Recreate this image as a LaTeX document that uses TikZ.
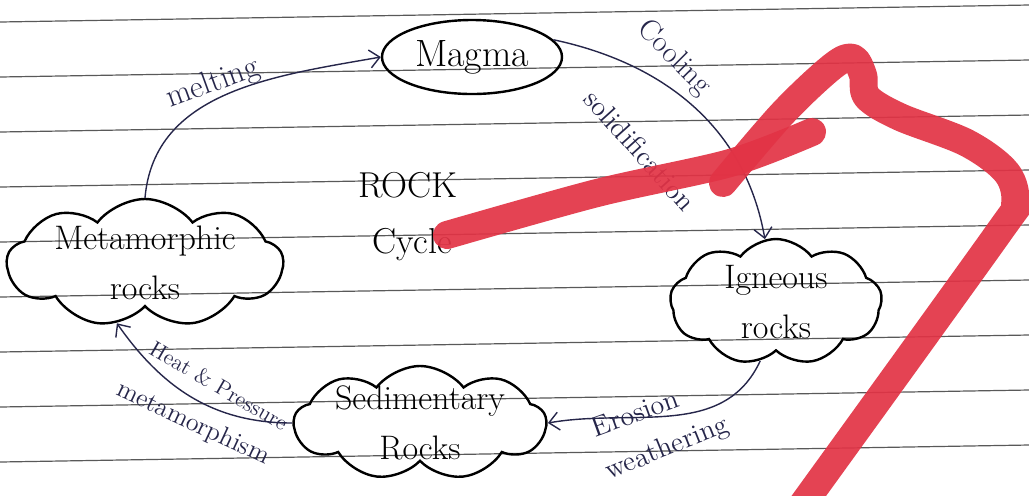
\documentclass[tikz,border=0pt]{standalone}
\usetikzlibrary{shapes.symbols,shapes.geometric,arrows.meta}
\definecolor{ink}{HTML}{26264A}
\definecolor{redmark}{HTML}{E23345}
\begin{document}
\begin{tikzpicture}[x=0.5pt,y=-0.5pt,
  rockcloud/.style={cloud, draw=black, line width=1.2pt, cloud puffs=9, cloud puff arc=105, inner sep=0pt},
  cloudtext/.style={font=\fontsize{17}{25}\selectfont, align=center, inner sep=0pt},
  magmabox/.style={ellipse, draw=black, line width=1.2pt, minimum width=82pt, minimum height=37pt, font=\fontsize{19}{22}\selectfont},
  flow/.style={draw=ink, line width=0.7pt, -{Straight Barb[length=5pt,width=9pt]}},
  flowlabel/.style={text=ink, font=\fontsize{14}{16}\selectfont, inner sep=0pt},
  titletext/.style={font=\fontsize{18}{20}\selectfont},
  ruling/.style={draw=gray!70!black, line width=0.6pt},
  scribble/.style={draw=redmark, line width=14pt, line cap=round, line join=round, opacity=0.92}
]
\useasboundingbox (0,0) rectangle (1029,495);
\fill[white] (0,0) rectangle (1029,495);
\clip (0,0) rectangle (1029,495);
\foreach \y in {22,77,...,470} \draw[ruling] (0,\y) -- (1029,\y-17);

\node[magmabox] (magma) at (472,57) {Magma};
\node[rockcloud, minimum width=138pt, minimum height=64pt,
      label={[cloudtext]center:Metamorphic\\rocks}] (meta) at (145,263) {};
\node[rockcloud, minimum width=106pt, minimum height=63pt,
      label={[cloudtext]center:Igneous\\rocks}] (ign) at (776,302) {};
\node[rockcloud, minimum width=126pt, minimum height=57pt,
      label={[cloudtext]center:Sedimentary\\Rocks}] (sed) at (420,423) {};
\node[titletext] (rock) at (408,185) {ROCK};
\node[titletext] (cycle) at (412,245) {Cycle};

\draw[flow] (meta.north) to[out=85, in=190] (magma.west);
\draw[flow] (magma.12) to[out=-12, in=100] (ign.100);
\draw[flow] (ign.255) to[out=245, in=10] (sed.east);
\draw[flow] (sed.west) to[out=180, in=305] (meta.245);

\node[flowlabel, rotate=20, font=\fontsize{16}{18}\selectfont] (lmelt) at (213,84) {melting};
\node[flowlabel, rotate=-45, font=\fontsize{15}{18}\selectfont] (lcool) at (674,58) {Cooling};
\node[flowlabel, rotate=-48] (lsolid) at (640,150) {solidification};
\node[flowlabel, rotate=20] (leros) at (635,413) {Erosion};
\node[flowlabel, rotate=22] (lweath) at (667,449) {weathering};
\node[flowlabel, rotate=-30, font=\fontsize{11}{13}\selectfont] (lheat) at (219,386) {Heat \& Pressure};
\node[flowlabel, rotate=-25, font=\fontsize{13}{15}\selectfont] (lmeta) at (193,424) {metamorphism};

\draw[scribble] plot[smooth] coordinates {(447,235) (597,193) (730,163) (812,132)};
\draw[scribble] plot[smooth, tension=0.55] coordinates {(723,183) (783,113) (833,66) (853,58) (863,75) (867,97) (900,117) (967,143) (1007,173) (1015,205) (997,235) (795,515)};
\end{tikzpicture}
\end{document}
